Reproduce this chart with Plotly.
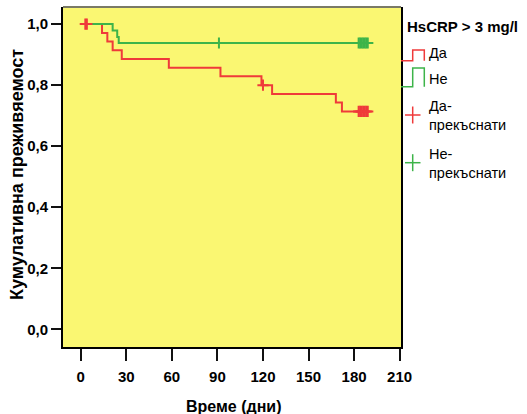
import plotly.graph_objects as go

# Kaplan-Meier estimates by HsCRP group (time in days)
red_times = [0, 14, 17.5, 21, 27, 58, 92, 119, 126, 168, 172]
red_surv = [1.0, 0.971, 0.943, 0.914, 0.886, 0.857, 0.829, 0.800, 0.771, 0.743, 0.714]
red_censor = [3, 4, 120, 183, 184, 185, 186, 187, 188, 189]

green_times = [0, 21, 24, 25]
green_surv = [1.0, 0.979, 0.958, 0.938]
green_censor = [91, 183, 184, 185, 186, 187, 188, 189]

x_ticks = [0, 30, 60, 90, 120, 150, 180, 210]
y_ticks = [0.0, 0.2, 0.4, 0.6, 0.8, 1.0]

legend_title = "HsCRP > 3 mg/l"
group_labels = ["Да", "Не"]
censor_labels = ["Да-<br>прекъснати", "Не-<br>прекъснати"]

RED = "#EF3A3A"
GREEN = "#3DB449"
YELLOW = "#FAF772"
FONT = "Liberation Sans, Arial, sans-serif"


def surv_at(times, surv, t):
    value = surv[0]
    for ti, si in zip(times, surv):
        if ti <= t:
            value = si
    return value


def step_xy(times, surv, end):
    return list(times) + [end], list(surv) + [surv[-1]]


fig = go.Figure()

rx, ry = step_xy(red_times, red_surv, max(red_censor))
gx, gy = step_xy(green_times, green_surv, max(green_censor))

fig.add_trace(go.Scatter(x=rx, y=ry, mode="lines", line=dict(color=RED, width=2, shape="hv"),
                         showlegend=False, hoverinfo="skip"))
fig.add_trace(go.Scatter(x=gx, y=gy, mode="lines", line=dict(color=GREEN, width=2, shape="hv"),
                         showlegend=False, hoverinfo="skip"))
fig.add_trace(go.Scatter(x=red_censor, y=[surv_at(red_times, red_surv, t) for t in red_censor],
                         mode="markers",
                         marker=dict(symbol="cross-thin", size=8, line=dict(color=RED, width=2)),
                         showlegend=False, hoverinfo="skip"))
fig.add_trace(go.Scatter(x=green_censor, y=[surv_at(green_times, green_surv, t) for t in green_censor],
                         mode="markers",
                         marker=dict(symbol="cross-thin", size=8, line=dict(color=GREEN, width=2)),
                         showlegend=False, hoverinfo="skip"))

W, H = 527, 414
ML, MR, MT, MB = 63, 126, 7, 67
PW, PH = W - ML - MR, H - MT - MB


def px(x):
    return (x - ML) / PW


def py(y):
    return (H - MB - y) / PH


shapes = []
annotations = []

# top border of the plot frame
shapes.append(dict(type="line", xref="paper", yref="paper", x0=0, x1=1, y0=1, y1=1,
                   line=dict(color="#7A7A66", width=2)))

# legend: step glyphs for the survival curves
step_glyphs = [(RED, 60.7, 50.0), (GREEN, 86.7, 68.0)]
for color, yb, yt in step_glyphs:
    path = (f"M {px(401)},{py(yb)} L {px(412.7)},{py(yb)} L {px(412.7)},{py(yt)} "
            f"L {px(424.3)},{py(yt)} L {px(424.3)},{py(yb)}")
    shapes.append(dict(type="path", xref="paper", yref="paper", path=path,
                       line=dict(color=color, width=1.5)))

# legend: cross glyphs for censored cases
for color, cy in [(RED, 115), (GREEN, 162.7)]:
    shapes.append(dict(type="line", xref="paper", yref="paper",
                       x0=px(405), x1=px(420.5), y0=py(cy), y1=py(cy),
                       line=dict(color=color, width=1.5)))
    shapes.append(dict(type="line", xref="paper", yref="paper",
                       x0=px(412.7), x1=px(412.7), y0=py(cy - 8.5), y1=py(cy + 8.5),
                       line=dict(color=color, width=1.5)))

annotations.append(dict(text=f"<b>{legend_title}</b>", xref="paper", yref="paper",
                        x=px(405), y=py(26.7), xanchor="left", yanchor="middle",
                        showarrow=False, font=dict(family=FONT, size=15, color="black")))
for label, cy in zip(group_labels, [53.3, 79]):
    annotations.append(dict(text=label, xref="paper", yref="paper",
                            x=px(427), y=py(cy), xanchor="left", yanchor="middle",
                            showarrow=False, font=dict(family=FONT, size=14.5, color="black")))
for label, cy in zip(censor_labels, [116, 163.3]):
    annotations.append(dict(text=label, xref="paper", yref="paper", align="left",
                            x=px(427), y=py(cy), xanchor="left", yanchor="middle",
                            showarrow=False, font=dict(family=FONT, size=14.5, color="black")))

# axis titles
annotations.append(dict(text="<b>Време (дни)</b>", xref="paper", yref="paper",
                        x=px(234), y=py(406), xanchor="center", yanchor="middle",
                        showarrow=False, font=dict(family=FONT, size=16, color="black")))
annotations.append(dict(text="<b>Кумулативна преживяемост</b>", xref="paper", yref="paper",
                        x=px(16.5), y=py(174.5), xanchor="center", yanchor="middle",
                        textangle=-90, showarrow=False,
                        font=dict(family=FONT, size=18, color="black")))

fig.update_layout(
    width=W, height=H,
    margin=dict(l=ML, r=MR, t=MT, b=MB, pad=0),
    paper_bgcolor="white",
    plot_bgcolor=YELLOW,
    separators=", ",
    showlegend=False,
    shapes=shapes,
    annotations=annotations,
    font=dict(family=FONT, color="black"),
)

fig.update_xaxes(
    range=[-11.7, 210.9], tickvals=x_ticks, ticks="outside", ticklen=12, tickwidth=2,
    tickcolor="#111111", showline=True, linecolor="black", linewidth=2,
    showgrid=False, zeroline=False, ticklabelstandoff=3,
    tickfont=dict(family=FONT, size=15, weight="bold", color="black"),
)
fig.update_yaxes(
    range=[-0.058, 1.056], tickvals=y_ticks, tickformat=".1f", ticks="outside", ticklen=10,
    tickwidth=2, tickcolor="#111111", showline=True, mirror=True, linecolor="black",
    linewidth=2, showgrid=False, zeroline=False,
    tickfont=dict(family=FONT, size=15, weight="bold", color="black"),
)

fig.write_html("out.html")
